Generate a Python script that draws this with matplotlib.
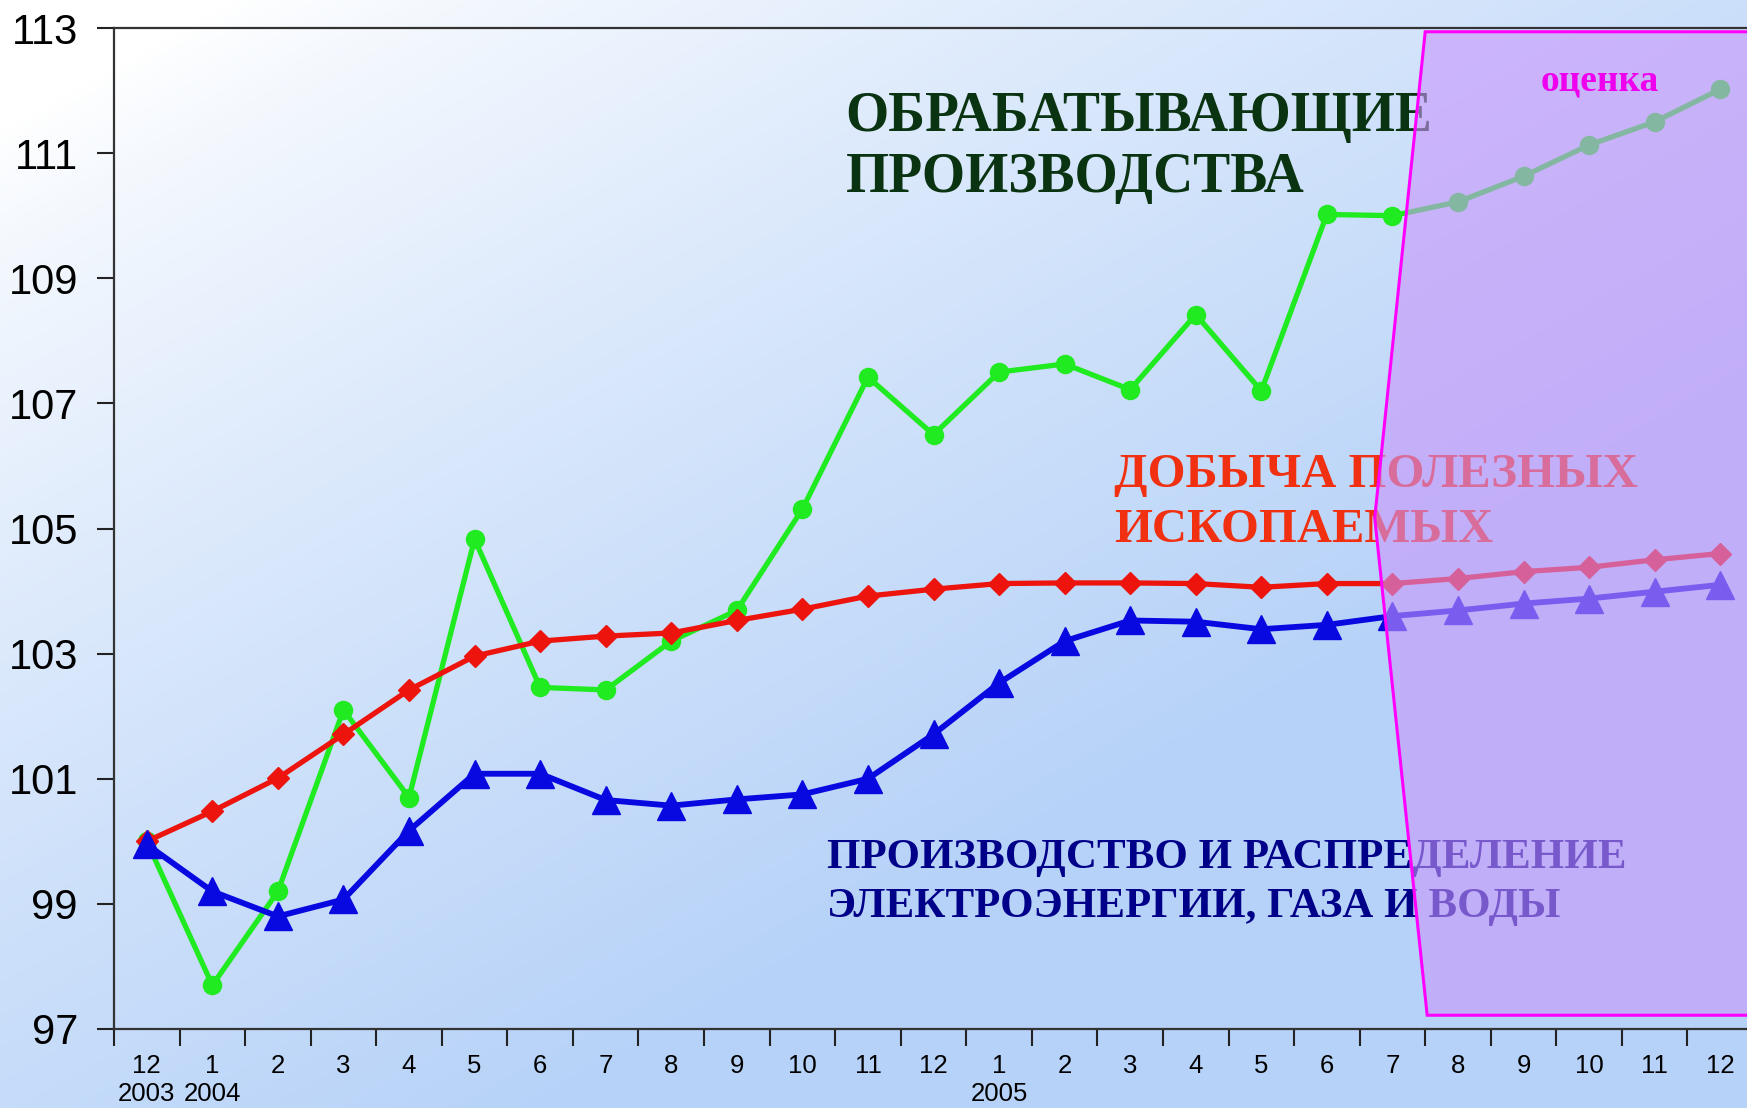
import numpy as np
import matplotlib
matplotlib.use("Agg")
from matplotlib import pyplot as plt
from matplotlib.patches import Polygon

# months from Dec 2003 to Dec 2005
months = ["12", "1", "2", "3", "4", "5", "6", "7", "8", "9", "10", "11", "12",
          "1", "2", "3", "4", "5", "6", "7", "8", "9", "10", "11", "12"]
year_labels = {0: "2003", 1: "2004", 13: "2005"}

manufacturing = [100.0, 97.7, 99.2, 102.1, 100.7, 104.83, 102.46, 102.42, 103.2, 103.69,
                 105.31, 107.42, 106.5, 107.5, 107.63, 107.22, 108.42, 107.2, 110.02, 110.0,
                 110.22, 110.63, 111.13, 111.5, 112.02]
mining = [100.0, 100.48, 101.01, 101.71, 102.42, 102.96, 103.2, 103.28, 103.33, 103.53,
          103.71, 103.92, 104.03, 104.12, 104.13, 104.13, 104.12, 104.06, 104.12, 104.12,
          104.2, 104.31, 104.38, 104.5, 104.6]
utilities = [99.95, 99.2, 98.8, 99.07, 100.17, 101.08, 101.08, 100.66, 100.57, 100.67,
             100.75, 101.0, 101.71, 102.53, 103.2, 103.53, 103.51, 103.39, 103.46, 103.6,
             103.69, 103.8, 103.88, 103.99, 104.1]

y_ticks = [97, 99, 101, 103, 105, 107, 109, 111, 113]

W, H = 1747, 1108
fig = plt.figure(figsize=(W / 100, H / 100), dpi=100)

# background gradient: white top-left to light blue
bg = fig.add_axes([0, 0, 1, 1], zorder=-10)
xx, yy = np.meshgrid(np.linspace(0, 1, 400), np.linspace(0, 1, 300))
t = np.clip(0.75 * xx + 0.85 * yy - 0.1, 0, 1) ** 0.8
c0 = np.array([1.0, 1.0, 1.0])
c1 = np.array([182, 210, 248]) / 255
img = c0[None, None, :] * (1 - t[..., None]) + c1[None, None, :] * t[..., None]
bg.imshow(img, aspect="auto", extent=[0, 1, 0, 1], origin="upper")
bg.axis("off")

ax = fig.add_axes([114 / W, 79 / H, (1753 - 114) / W, (1029 - 28) / H])
ax.set_facecolor("none")

x = np.arange(len(months))
ax.plot(x, manufacturing, color="#20ea20", lw=3.8, marker="o", ms=13, zorder=3)
ax.plot(x, mining, color="#ec140c", lw=3.8, marker="D", ms=11, zorder=3)
ax.plot(x, utilities, color="#0808e0", lw=4.2, marker="^", ms=20, zorder=4)

ax.set_xlim(-0.5, len(months) - 0.5)
ax.set_ylim(97, 113)

ax.set_yticks(y_ticks)
ax.set_yticklabels([str(v) for v in y_ticks], fontsize=30, family="Liberation Sans")
ax.tick_params(axis="y", length=12, width=1.5, pad=14, color="#222222")

labels = []
for i, m in enumerate(months):
    labels.append(m + ("\n" + year_labels[i] if i in year_labels else ""))
ax.set_xticks(x)
ax.set_xticklabels(labels, fontsize=18.5, family="Liberation Sans", linespacing=1.2)
ax.tick_params(axis="x", which="major", length=0, pad=18)
ax.set_xticks(np.arange(-0.5, len(months), 1), minor=True)
ax.tick_params(axis="x", which="minor", length=12, width=1.5, color="#222222")

for s in ax.spines.values():
    s.set_color("#333333")
    s.set_linewidth(1.6)

serif = "Liberation Serif"
ax.text(10.66, 111.99, "ОБРАБАТЫВАЮЩИЕ\nПРОИЗВОДСТВА", color="#0a3312",
        fontsize=40, fontweight="bold", family=serif, va="top", ha="left",
        linespacing=1.22, zorder=2)
ax.text(14.76, 106.2, "ДОБЫЧА ПОЛЕЗНЫХ\nИСКОПАЕМЫХ", color="#f03010",
        fontsize=35, fontweight="bold", family=serif, va="top", ha="left",
        linespacing=1.3, zorder=2)
ax.text(10.37, 100.03, "ПРОИЗВОДСТВО И РАСПРЕДЕЛЕНИЕ\nЭЛЕКТРОЭНЕРГИИ, ГАЗА И ВОДЫ",
        color="#000088", fontsize=31, fontweight="bold", family=serif, va="top",
        ha="left", linespacing=1.35, zorder=2)

# forecast region
forecast = Polygon([(19.5, 112.94), (18.73, 105.17), (19.53, 97.22),
                    (25.5, 97.22), (25.5, 112.94)],
                   closed=True, facecolor=(200 / 255, 150 / 255, 250 / 255, 0.6),
                   edgecolor="#ff00ff", lw=2.2, zorder=5)
ax.add_patch(forecast)
ax.text(22.16, 112.15, "оценка", color="#ee00ee", fontsize=27, fontweight="bold",
        family=serif, ha="center", va="center", zorder=6)

fig.savefig("out.png", dpi=100)
